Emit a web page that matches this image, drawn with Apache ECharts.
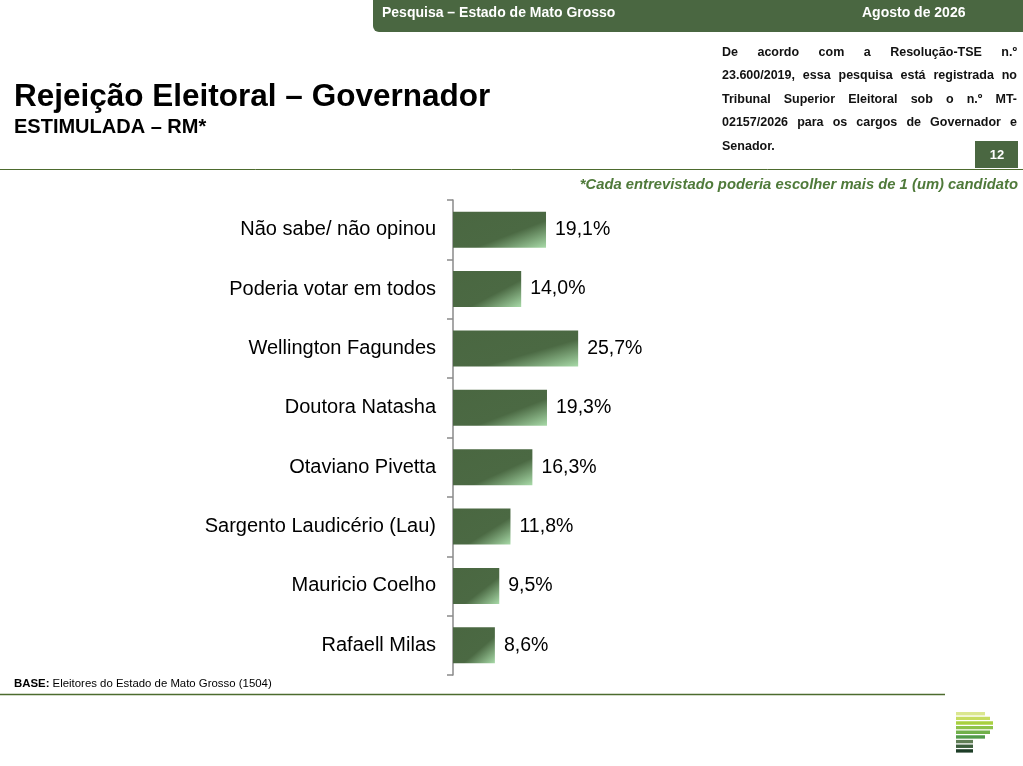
<!DOCTYPE html>
<html>
<head>
<meta charset="utf-8">
<script src="https://cdn.jsdelivr.net/npm/echarts@6/dist/echarts.min.js"></script>
<style>
  html, body { margin: 0; padding: 0; background: #fff; }
  #chart { width: 1023px; height: 766px; }
</style>
</head>
<body>
<div id="chart"></div>
<script>
var categories = [
    'Não sabe/ não opinou',
    'Poderia votar em todos',
    'Wellington Fagundes',
    'Doutora Natasha',
    'Otaviano Pivetta',
    'Sargento Laudicério (Lau)',
    'Mauricio Coelho',
    'Rafaell Milas'
];
var values = [19.1, 14.0, 25.7, 19.3, 16.3, 11.8, 9.5, 8.6];

var noteLines = [
    'De acordo com a Resolução-TSE n.º',
    '23.600/2019, essa pesquisa está registrada no',
    'Tribunal Superior Eleitoral sob o n.º MT-',
    '02157/2026 para os cargos de Governador e',
    'Senador.'
];

var green = '#4a6741';
var lineGreen = '#4d6b2e';
var font = '"Liberation Sans", Arial, sans-serif';
var xMax = 100;
var gridW = 487;
var barH = 36;

// justified text: place every word by hand
var measure = document.createElement('canvas').getContext('2d');
function justify(lines, x, y, width, lineH, size) {
    var out = [];
    var f = 'bold ' + size + 'px ' + font;
    measure.font = f;
    lines.forEach(function (line, i) {
        var words = line.split(' ');
        var last = i === lines.length - 1;
        var total = 0;
        words.forEach(function (w) { total += measure.measureText(w).width; });
        var gap = (last || words.length < 2) ? measure.measureText(' ').width
            : (width - total) / (words.length - 1);
        var cx = x;
        words.forEach(function (w) {
            out.push({
                type: 'text', left: cx, top: y + i * lineH,
                style: { text: w, font: f, fill: '#111' }
            });
            cx += measure.measureText(w).width + gap;
        });
    });
    return out;
}

// gradient whose isolines follow the bar's anti-diagonal (like the office fill)
function barFill(v) {
    var w = v / xMax * gridW, h = barH;
    var s = w * w + h * h;
    return new echarts.graphic.LinearGradient(0, 0, 2 * h * h / s, 2 * w * w / s, [
        { offset: 0, color: '#4a6741' },
        { offset: 0.62, color: '#4b6943' },
        { offset: 1, color: '#a8daa8' }
    ]);
}

var logoW = [29, 34, 37, 37, 34, 29, 17, 17, 17];
var logoC = ['#dbe78f', '#c6dc60', '#a9d040', '#8ec24a', '#70b04a', '#519a4a', '#5f7d55', '#3b5d3c', '#1d3d27'];
var logo = logoW.map(function (w, i) {
    return {
        type: 'rect', shape: { x: 956, y: 712 + i * 4.65, width: w, height: 3.4 },
        style: { fill: logoC[i] }
    };
});

var chart = echarts.init(document.getElementById('chart'));
chart.setOption({
    animation: false,
    graphic: [
        { type: 'rect', shape: { x: 373, y: -8, width: 660, height: 40, r: 6 }, style: { fill: green } },
        { type: 'text', left: 382, top: 6, style: { text: 'Pesquisa – Estado de Mato Grosso', font: 'bold 14px ' + font, fill: '#fff' } },
        { type: 'text', left: 862, top: 6, style: { text: 'Agosto de 2026', font: 'bold 14px ' + font, fill: '#fff' } },
        { type: 'text', left: 14, top: 81, style: { text: 'Rejeição Eleitoral – Governador', font: 'bold 31.5px ' + font, fill: '#000' } },
        { type: 'text', left: 14, top: 117, style: { text: 'ESTIMULADA – RM*', font: 'bold 20px ' + font, fill: '#000' } },
        { type: 'rect', shape: { x: 975, y: 141, width: 43, height: 27 }, style: { fill: green } },
        { type: 'text', x: 997, y: 155, style: { text: '12', font: 'bold 13px ' + font, fill: '#fff', align: 'center', verticalAlign: 'middle' } },
        { type: 'line', shape: { x1: 0, y1: 169.5, x2: 1023, y2: 169.5 }, style: { stroke: lineGreen, lineWidth: 1 } },
        { type: 'text', right: 5, top: 177, style: { text: '*Cada entrevistado poderia escolher mais de 1 (um) candidato', font: 'italic bold 14.8px ' + font, fill: '#4f7a3a' } },
        { type: 'text', left: 14, top: 678, style: {
            text: '{b|BASE:} Eleitores do Estado de Mato Grosso (1504)',
            font: '11.4px ' + font, fill: '#000',
            rich: { b: { fontWeight: 'bold', fontSize: 11.4, fontFamily: font } }
        } },
        { type: 'line', shape: { x1: 0, y1: 694.5, x2: 945, y2: 694.5 }, style: { stroke: lineGreen, lineWidth: 1.5 } }
    ].concat(justify(noteLines, 722, 46, 295, 23.5, 12.5)).concat(logo),
    grid: { left: 453, right: 1023 - 453 - gridW, top: 200, bottom: 91 },
    xAxis: {
        type: 'value', min: 0, max: xMax, show: false
    },
    yAxis: {
        type: 'category',
        data: categories,
        inverse: true,
        axisLine: { lineStyle: { color: '#8a8a8a', width: 1.5 } },
        axisTick: { show: true, length: 6, lineStyle: { color: '#8a8a8a', width: 1.5 } },
        axisLabel: { margin: 17, color: '#000', fontSize: 20, fontFamily: font, padding: [3, 0, 0, 0] }
    },
    series: [{
        type: 'bar',
        data: values.map(function (v) { return { value: v, itemStyle: { color: barFill(v) } }; }),
        barWidth: barH,
        label: {
            show: true, position: 'right', distance: 9,
            color: '#000', fontSize: 19.5, fontFamily: font, padding: [3, 0, 0, 0],
            formatter: function (p) { return p.value.toFixed(1).replace('.', ',') + '%'; }
        }
    }]
});
</script>
</body>
</html>
